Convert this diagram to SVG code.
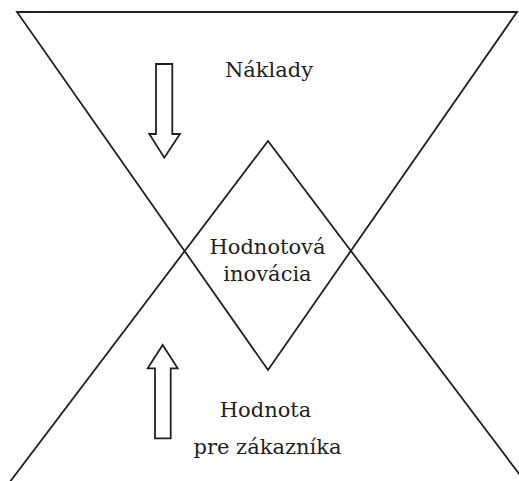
<svg xmlns="http://www.w3.org/2000/svg" width="519" height="481" viewBox="0 0 519 481">
  <style>
    .ln { fill: none; stroke: #231f20; stroke-width: 1.8; stroke-linejoin: miter; }
    .arrow { fill: #ffffff; stroke: #231f20; stroke-width: 1.8; stroke-linejoin: miter; }
    .lbl { font-family: "DejaVu Serif", "Liberation Serif", serif; font-size: 21px; fill: #231f20; text-anchor: middle; }
  </style>
  <rect width="519" height="481" fill="#ffffff"/>

  <g id="connectors">
    <!-- downward triangle: costs -->
    <polygon class="ln" points="17,12 517,12 268,370"/>
    <!-- upward triangle: customer value (base lies below the frame) -->
    <polyline class="ln" points="3,491 268,141 532,491"/>
  </g>

  <g id="costs">
    <polygon class="arrow" points="156,64 172.3,64 172.3,134 180,134 164.3,157.7 149.3,134 156,134"/>
    <text class="lbl" x="269" y="77">Náklady</text>
  </g>

  <g id="value-innovation">
    <text class="lbl" x="267.5" y="254">Hodnotová</text>
    <text class="lbl" x="267.5" y="281">inovácia</text>
  </g>

  <g id="customer-value">
    <polygon class="arrow" points="162.7,345 177.7,368.3 170.7,368.3 170.7,438.3 155,438.3 155,368.3 147.7,368.3"/>
    <text class="lbl" x="265.5" y="417">Hodnota</text>
    <text class="lbl" x="267.5" y="454">pre zákazníka</text>
  </g>
</svg>
